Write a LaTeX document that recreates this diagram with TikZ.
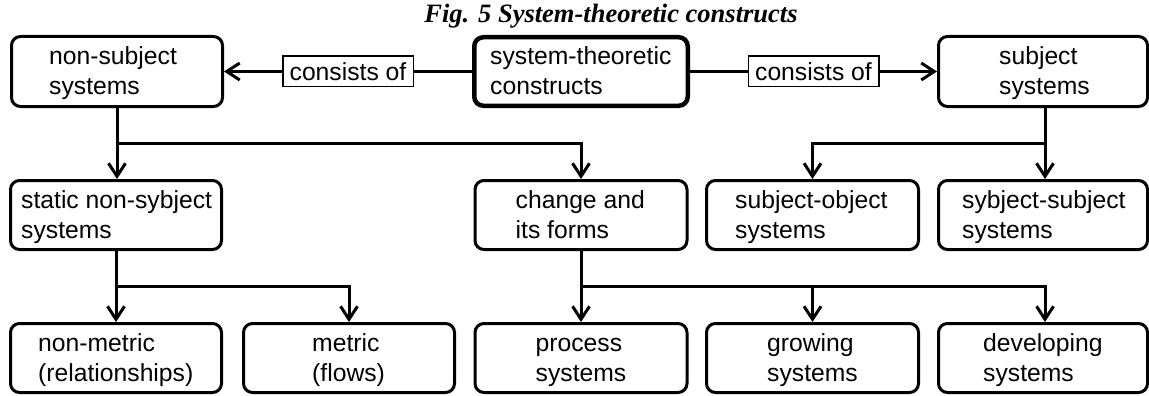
\documentclass[tikz,border=0pt]{standalone}
\usepackage{fontspec}
\setmainfont{Liberation Sans}
\newfontfamily\titlefont{Liberation Serif}
\usetikzlibrary{arrows.meta,calc}
\begin{document}
\begin{tikzpicture}[x=1pt,y=-1pt,
  box/.style={draw, line width=3pt, rounded corners=9pt, minimum width=211pt,
    minimum height=69pt, inner sep=0pt},
  mainbox/.style={box, line width=4.5pt, minimum width=213.5pt, minimum height=68.5pt},
  txt/.style={anchor=base west, align=left, inner sep=0pt,
    font=\fontsize{24.7}{29.5}\selectfont},
  lbl/.style={draw, line width=1.5pt, fill=white, inner sep=0pt,
    minimum width=130.5pt, minimum height=30.5pt,
    font=\fontsize{24.7}{29.5}\selectfont},
  conn/.style={line width=3pt, -{Straight Barb[length=13pt,width=17pt]}},
  ttl/.style={anchor=base, inner sep=0pt,
    font=\titlefont\bfseries\itshape\fontsize{26.5}{30}\selectfont}]
\useasboundingbox (0,0) rectangle (1149,396);

\node[ttl] (title) at (611,23) {Fig. 5 System-theoretic constructs};

% top row
\node[box, minimum height=70pt] (nonsub) at (117,71.5) {};
\node[mainbox] (systheo) at (581,71.5) {};
\node[box, minimum height=70pt, minimum width=209pt] (subj) at (1043,71.5) {};
% middle row
\node[box] (static) at (116,215) {};
\node[box, minimum width=212pt] (chg) at (581,215) {};
\node[box, minimum width=212pt] (subo) at (812.5,215) {};
\node[box, minimum width=209pt] (sysu) at (1043,215) {};
% bottom row
\node[box] (nmet) at (116,358) {};
\node[box] (met) at (349,358) {};
\node[box, minimum width=212pt] (proc) at (581,358) {};
\node[box, minimum width=212pt] (grow) at (812.5,358) {};
\node[box, minimum width=209pt] (dev) at (1043,358) {};

% texts (base anchor = baseline of the last line)
\node[txt] (nonsubT) at ($(nonsub.north west)+(39,59.5)$) {non-subject\\systems};
\node[txt] (systheoT) at ($(systheo.north west)+(18,59.5)$) {system-theoretic\\constructs};
\node[txt] (subjT) at ($(subj.north west)+(62,59.5)$) {subject\\systems};
\node[txt] (staticT) at ($(static.north west)+(12,59)$) {static non-sybject\\systems};
\node[txt] (chgT) at ($(chg.north west)+(42,59)$) {change and\\its forms};
\node[txt] (suboT) at ($(subo.north west)+(30,59)$) {subject-object\\systems};
\node[txt] (sysuT) at ($(sysu.north west)+(25,59)$) {sybject-subject\\systems};
\node[txt] (nmetT) at ($(nmet.north west)+(29,59)$) {non-metric\\(relationships)};
\node[txt] (metT) at ($(met.north west)+(70,59)$) {metric\\(flows)};
\node[txt] (procT) at ($(proc.north west)+(62,59)$) {process\\systems};
\node[txt] (growT) at ($(grow.north west)+(62,59)$) {growing\\systems};
\node[txt] (devT) at ($(dev.north west)+(46,59)$) {developing\\systems};

% connectors
\draw[conn] (systheo) -- node[lbl] (lblL) {consists of} (nonsub);
\draw[conn] (systheo) -- node[lbl] (lblR) {consists of} (subj);

\coordinate (rowA) at (0,143);
\coordinate (rowB) at (0,286);
\coordinate (c5) at (1045,0);

\draw[conn] (nonsub.south) -- (nonsub.south |- static.north);
\draw[conn] (nonsub.south |- rowA) -| (chg.north);
\draw[conn] (c5 |- subj.south) -- (c5 |- sysu.north);
\draw[conn] (c5 |- rowA) -| (subo.north);
\draw[conn] (static.south) -- (static.south |- nmet.north);
\draw[conn] (static.south |- rowB) -| (met.north);
\draw[conn] (chg.south) -- (chg.south |- proc.north);
\draw[conn] (chg.south |- rowB) -| (c5 |- dev.north);
\draw[conn] (grow.north |- rowB) -- (grow.north);
\end{tikzpicture}
\end{document}
